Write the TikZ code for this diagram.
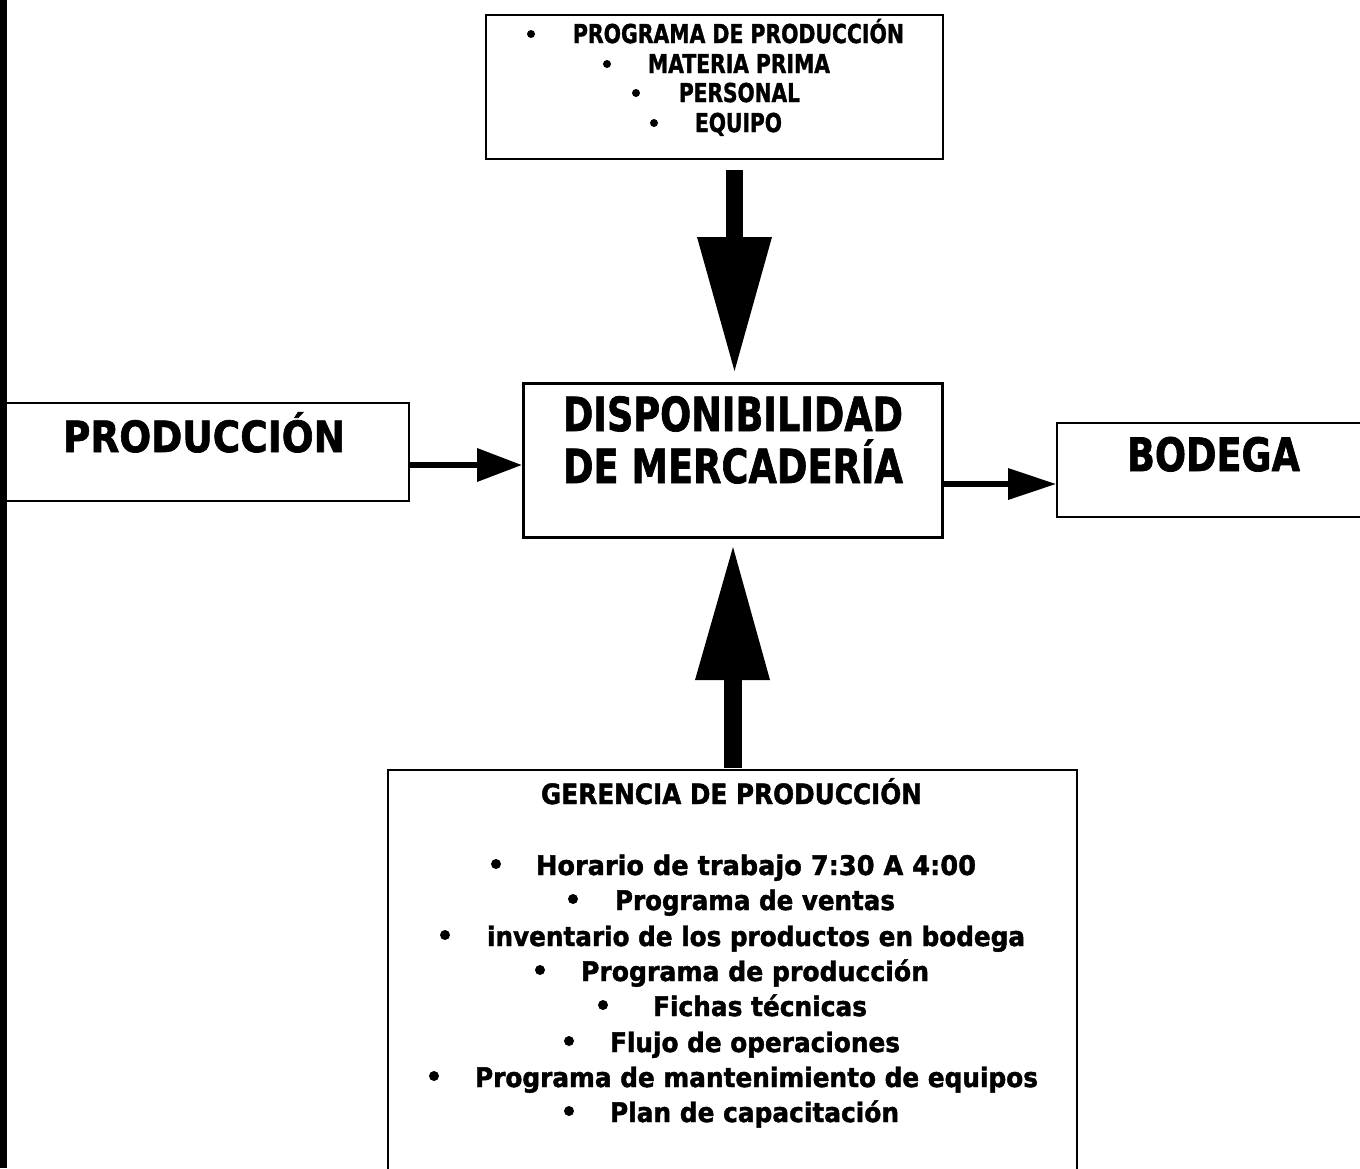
\documentclass[tikz,border=0pt]{standalone}
\usepackage{fontspec}
\usepackage{graphicx}
\setmainfont{DejaVu Sans}[BoldFeatures={FakeBold=1.6}]
\usetikzlibrary{calc}

% squeeze or stretch a label horizontally to a given width
\newcommand\fitto[2]{\resizebox{#1}{\height}{#2}}

\begin{document}
\begin{tikzpicture}[x=1pt,y=-1pt,
  box/.style={draw, line width=2.8pt, rectangle, inner sep=0pt},
  lbl/.style={anchor=base west, inner sep=0pt, outer sep=0pt},
  fs/.style={font=\bfseries\fontsize{#1}{#1}\selectfont},
  dot/.style={circle, fill, inner sep=0pt, minimum size=#1},
  shaft/.style={line width=#1},
  head/.style={fill=black}]

\useasboundingbox (0,0) rectangle (1360,1168);
\fill[white] (0,0) rectangle (1360,1168);
\clip (0,0) rectangle (1360,1168);

% dark strip along the left edge
\fill[black] (0,0) rectangle (7,1168);

% ---------- boxes ----------
\node[box, minimum width=457pt, minimum height=144pt] (top) at (714.5,87) {};
\node[box, line width=3pt, minimum width=419pt, minimum height=154pt] (mid) at (732.5,460) {};
\node[box, minimum width=412pt, minimum height=98pt] (prod) at (203,452) {};
\node[box, minimum width=320pt, minimum height=94pt] (bod) at (1217,470) {};
\node[box, minimum width=689pt, minimum height=420pt] (ger) at (732.5,980) {};

% ---------- top box: list ----------
\begin{scope}[fs=26]
\node[dot=8pt] (tb1) at (531,34) {};
\node[lbl] (tt1) at (573,43) {\fitto{331pt}{PROGRAMA DE PRODUCCIÓN}};
\node[dot=8pt] (tb2) at (607,64) {};
\node[lbl] (tt2) at (648,73) {\fitto{182pt}{MATERIA PRIMA}};
\node[dot=8pt] (tb3) at (636,93) {};
\node[lbl] (tt3) at (679,102) {\fitto{121pt}{PERSONAL}};
\node[dot=8pt] (tb4) at (654,123) {};
\node[lbl] (tt4) at (695,132) {\fitto{87pt}{EQUIPO}};
\end{scope}

% ---------- centre box ----------
\node[lbl, fs=47] (m1) at (563,431) {\fitto{340pt}{DISPONIBILIDAD}};
\node[lbl, fs=47] (m2) at (563,483) {\fitto{340pt}{DE MERCADERÍA}};

% ---------- side boxes ----------
\node[lbl, fs=43] (prodt) at (63,452) {\fitto{282pt}{PRODUCCIÓN}};
\node[lbl, fs=46] (bodt) at (1127,471) {\fitto{173pt}{BODEGA}};

% ---------- bottom box ----------
\node[lbl, fs=28] (gh) at (541,804) {\fitto{381pt}{GERENCIA DE PRODUCCIÓN}};
\begin{scope}[fs=27]
\node[dot=10pt] (gb1) at (496,864) {};
\node[lbl] (gt1) at (536,875) {\fitto{440pt}{Horario de trabajo 7:30 A 4:00}};
\node[dot=10pt] (gb2) at (573,899) {};
\node[lbl] (gt2) at (615,910) {\fitto{280pt}{Programa de ventas}};
\node[dot=10pt] (gb3) at (445,935) {};
\node[lbl] (gt3) at (487,946) {\fitto{538pt}{inventario de los productos en bodega}};
\node[dot=10pt] (gb4) at (540,970) {};
\node[lbl] (gt4) at (581,981) {\fitto{348pt}{Programa de producción}};
\node[dot=10pt] (gb5) at (603,1005) {};
\node[lbl] (gt5) at (653,1016) {\fitto{214pt}{Fichas técnicas}};
\node[dot=10pt] (gb6) at (569,1041) {};
\node[lbl] (gt6) at (610,1052) {\fitto{290pt}{Flujo de operaciones}};
\node[dot=10pt] (gb7) at (434,1076) {};
\node[lbl] (gt7) at (475,1087) {\fitto{563pt}{Programa de mantenimiento de equipos}};
\node[dot=10pt] (gb8) at (569,1111) {};
\node[lbl] (gt8) at (610,1122) {\fitto{289pt}{Plan de capacitación}};
\end{scope}

% ---------- block arrows ----------
% top box down to the centre box
\coordinate (dA) at (734.5,170);
\coordinate (dB) at (734.5,238);
\draw[shaft=17pt] (dA) -- (dB);
\fill[head] (697,237) -- (772,237) -- (734.5,371) -- cycle;

% management box up to the centre box
\coordinate (uA) at (733,768);
\coordinate (uB) at (733,678);
\draw[shaft=18pt] (uA) -- (uB);
\fill[head] (695,680) -- (770,680) -- (733,547) -- cycle;

% production into the centre box
\coordinate (lA) at (prod.east |- 0,465);
\coordinate (lB) at (479,465);
\draw[shaft=6pt] (lA) -- (lB);
\fill[head] (477,448) -- (477,482) -- (mid.west |- 0,465) -- cycle;

% centre box out to the warehouse
\coordinate (rA) at (mid.east |- 0,484);
\coordinate (rB) at (1010,484);
\draw[shaft=6pt] (rA) -- (rB);
\fill[head] (1008,468) -- (1008,500) -- (bod.west |- 0,484) -- cycle;

\end{tikzpicture}
\end{document}
